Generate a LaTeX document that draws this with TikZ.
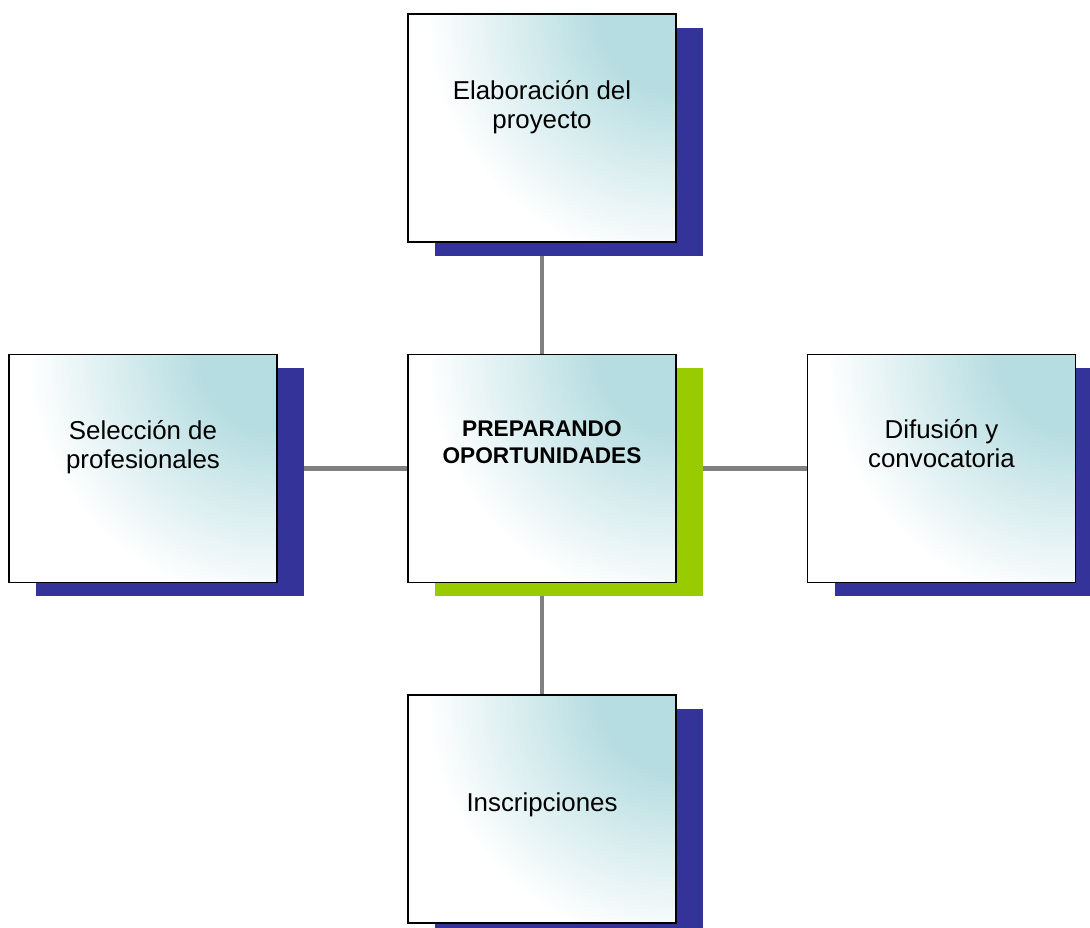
\documentclass[tikz,border=0pt]{standalone}
\usepackage{fontspec}
\setmainfont{Liberation Sans}
\usetikzlibrary{shadows,backgrounds}
\definecolor{tilecyan}{RGB}{182,221,225}
\definecolor{shadeblue}{RGB}{51,51,153}
\definecolor{shadegreen}{RGB}{153,204,0}
\definecolor{linkgray}{RGB}{128,128,128}
\pgfdeclareradialshading{tilefade}{\pgfpoint{0bp}{0bp}}{color(0bp)=(tilecyan); color(6bp)=(tilecyan); color(19.5bp)=(white); color(50bp)=(white)}
\tikzset{
	tile/.style={draw=black, line width=1.1pt, minimum width=201pt, minimum height=171pt, inner sep=0pt, fill=white,
		path picture={\shade[shading=tilefade] ([shift={(-240pt,-240pt)}]path picture bounding box.north east)
			rectangle ([shift={(240pt,240pt)}]path picture bounding box.north east);}},
	blueshadow/.style={general shadow={shadow xshift=20.25pt, shadow yshift=-10.25pt, fill=shadeblue}},
	greenshadow/.style={general shadow={shadow xshift=20.25pt, shadow yshift=-10.25pt, fill=shadegreen}},
	caption/.style={align=center, anchor=base, inner sep=0pt, font=\fontsize{19.4}{21.75}\selectfont},
	link/.style={draw=linkgray, line width=3.6pt}
}

\begin{document}
\begin{tikzpicture}[x=0.75pt, y=-0.75pt]
	%%%%% START %%%%%
	\clip (0, 0) rectangle (1090, 928);
	
	\node[tile, greenshadow] (prep) at (542, 468.5) {};
	\node[tile, blueshadow] (elab) at (542, 128) {};
	\node[tile, blueshadow] (selec) at (143, 468.5) {};
	\node[tile, blueshadow] (difus) at (941.5, 468.5) {};
	\node[tile, blueshadow] (inscr) at (542, 809) {};
	
	\node[caption, font=\fontsize{17}{20.25}\selectfont\bfseries] (prepT) at ([yshift=3.4pt]prep.center) {PREPARANDO\\OPORTUNIDADES};
	\node[caption] (elabT) at (elab.center) {Elaboración del\\proyecto};
	\node[caption] (selecT) at (selec.center) {Selección de\\profesionales};
	\node[caption] (difusT) at ([yshift=0.5pt]difus.center) {Difusión y\\convocatoria};
	\node[caption] (inscrT) at ([yshift=-1.5pt]inscr.center) {Inscripciones};
	
	\begin{scope}[on background layer]
		\draw[link] (prep) -- (elab);
		\draw[link] (prep) -- (selec);
		\draw[link] (prep) -- (difus);
		\draw[link] (prep) -- (inscr);
	\end{scope}
	%%%%% END %%%%%
\end{tikzpicture}
\end{document}
